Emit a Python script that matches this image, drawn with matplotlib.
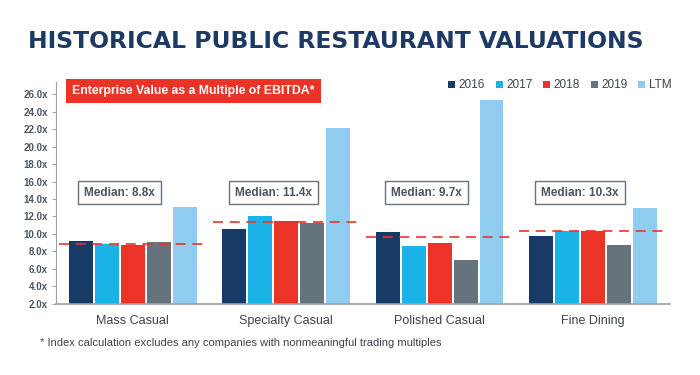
import numpy as np
import matplotlib
matplotlib.use("Agg")
import matplotlib.pyplot as plt

# DATA
segments = ["Mass Casual", "Specialty Casual", "Polished Casual", "Fine Dining"]
years = ["2016", "2017", "2018", "2019", "LTM"]
v2016 = [9.2, 10.6, 10.2, 9.8]
v2017 = [8.8, 12.1, 8.6, 10.3]
v2018 = [8.7, 11.5, 9.0, 10.3]
v2019 = [9.1, 11.3, 7.0, 8.7]
vltm = [13.1, 22.1, 25.4, 13.0]
medians = [8.8, 11.4, 9.7, 10.3]
yticks = np.arange(2, 27, 2)

colors = ["#173b66", "#1bb2e8", "#ec3327", "#65737d", "#8fccef"]
series = [v2016, v2017, v2018, v2019, vltm]

plt.rcParams["font.family"] = ["Liberation Sans", "DejaVu Sans"]

fig = plt.figure(figsize=(7, 3.75), dpi=100)
ax = fig.add_axes([0.08, 0.19, 0.877, 0.591])

x = np.arange(len(segments))
width = 0.155
pitch = 0.169
for i, (vals, c, lab) in enumerate(zip(series, colors, years)):
    ax.bar(x + (i - 2) * pitch, np.array(vals) - 2, width, bottom=2,
           color=c, label=lab, zorder=2)

# median lines + boxes
for i, m in enumerate(medians):
    ax.plot([i - 0.48, i + 0.48], [m, m], color="#ec3327", lw=1.2,
            ls=(0, (6, 4)), zorder=3)
    ax.text(i - 0.085, 14.75, f"Median: {m}x", ha="center", va="center",
            fontsize=8.5, fontweight="bold", color="#4a5560", zorder=4,
            bbox=dict(boxstyle="square,pad=0.5", fc="white", ec="#65737d", lw=1))

ax.set_xlim(-0.5, 3.5)
ax.set_ylim(2, 27.4)
ax.set_yticks(yticks)
ax.set_yticklabels([f"{t:.1f}x" for t in yticks], fontsize=7, fontweight="bold",
                   color="#4a5560")
ax.set_xticks(x)
ax.set_xticklabels(segments, fontsize=9, color="#3a434b")
ax.tick_params(axis="x", length=0, pad=8)
ax.tick_params(axis="y", length=3, color="#9aa3aa", pad=3)
for s in ["top", "right"]:
    ax.spines[s].set_visible(False)
ax.spines["left"].set_color("#9aa3aa")
ax.spines["bottom"].set_color("#9aa3aa")
ax.spines["bottom"].set_linewidth(1.2)

ax.legend(loc="upper right", bbox_to_anchor=(1.02, 1.06), ncol=5, frameon=False,
          fontsize=8.5, handlelength=0.6, handleheight=0.6, handletextpad=0.3,
          columnspacing=0.9, labelcolor="#3a434b")

# red banner
fig.text(0.103, 0.757, "Enterprise Value as a Multiple of EBITDA*", ha="left",
         va="center", fontsize=8.8, fontweight="bold", color="white",
         bbox=dict(boxstyle="square,pad=0.5", fc="#ec3327", ec="none"))

fig.text(0.04, 0.89, "HISTORICAL PUBLIC RESTAURANT VALUATIONS", ha="left",
         va="center", fontsize=16.9, fontweight="bold", color="#1c3a64",
         family=["DejaVu Sans"])

fig.text(0.057, 0.085, "* Index calculation excludes any companies with nonmeaningful trading multiples",
         ha="left", va="center", fontsize=8, color="#3a434b")

fig.savefig("out.png", dpi=100)
